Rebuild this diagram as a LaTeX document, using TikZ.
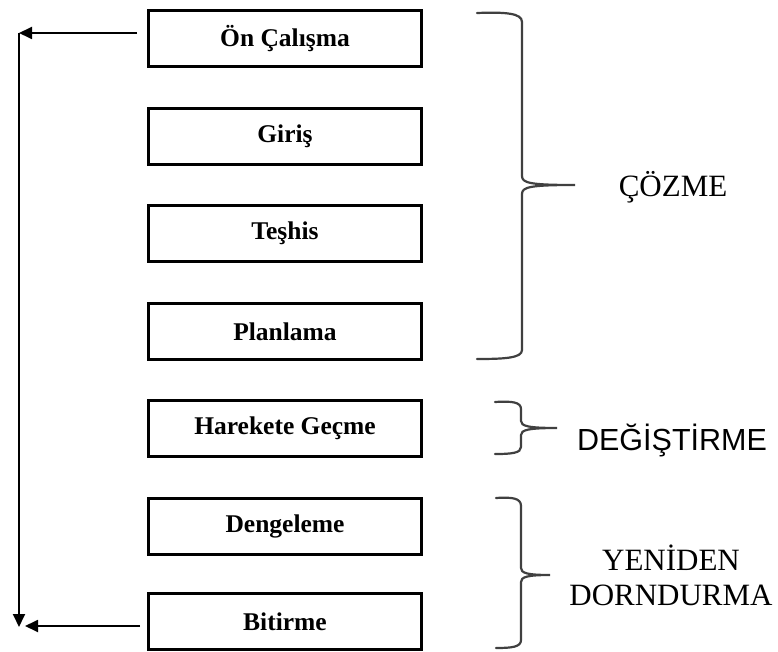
\documentclass[tikz,border=0pt]{standalone}
\usepackage{fontspec}
\setmainfont{Liberation Serif}
\newfontfamily\arialfont{Liberation Sans}
\usetikzlibrary{arrows.meta}
\begin{document}
\begin{tikzpicture}[x=1pt,y=-1pt,
  stage/.style={draw=black,line width=3pt,fill=white,minimum width=273pt,minimum height=56pt,
    inner sep=0pt,font=\fontsize{25.5}{30}\selectfont\bfseries},
  flow/.style={line width=1.8pt,-{Triangle[length=13pt,width=12pt]}},
  brace/.style={line width=2.2pt,draw=black!75,line cap=round},
  phase/.style={align=center,font=\fontsize{31}{35}\selectfont}]
\useasboundingbox (0,0) rectangle (778,652);

% process stages
\node[stage] (n1) at (285,39)    {Ön Çalışma};
\node[stage] (n2) at (285,136.5) {Giriş};
\node[stage] (n3) at (285,233.5) {Teşhis};
\node[stage] (n4) at (285,331.5) {Planlama};
\node[stage] (n5) at (285,428.5) {Harekete Geçme};
\node[stage] (n6) at (285,526.5) {Dengeleme};
\node[stage] (n7) at (285,621.5) {Bitirme};

% feedback loop on the left
\coordinate (ltop) at (19,33);
\coordinate (lbot) at (19,627);
\coordinate (lend) at (25,626);
\draw[flow] ([xshift=-10pt,yshift=6pt]n1.west) -- (ltop);
\draw[flow] (ltop) -- (lbot);
\draw[flow] ([xshift=-7pt,yshift=-4.5pt]n7.west) -- (lend);

% braces grouping the stages
\draw[brace] (477,13) .. controls (505,12) and (522,13) .. (522,22) -- (522,176)
  .. controls (522,183) and (530,185) .. (575,185)
  .. controls (530,185) and (522,187) .. (522,194) -- (522,350)
  .. controls (522,358) and (505,359) .. (477,359);
\draw[brace] (495,402) .. controls (512,401) and (521,402) .. (521,409) -- (521,421)
  .. controls (521,426) and (528,428) .. (557,428)
  .. controls (528,428) and (521,430) .. (521,435) -- (521,447)
  .. controls (521,453) and (512,454) .. (495,454);
\draw[brace] (496,498) .. controls (512,497) and (521,498) .. (521,506) -- (521,568)
  .. controls (521,573) and (527,575) .. (550,575)
  .. controls (527,575) and (521,577) .. (521,582) -- (521,640)
  .. controls (521,647) and (512,648) .. (496,648);

% phase labels
\node[phase] (p1) at (673,187) {ÇÖZME};
\node[phase,font=\fontsize{30.5}{35}\arialfont] (p2) at (672,440) {DEĞİŞTİRME};
\node[phase] (p3) at (671,575) {YENİDEN\\DORNDURMA};
\end{tikzpicture}
\end{document}
